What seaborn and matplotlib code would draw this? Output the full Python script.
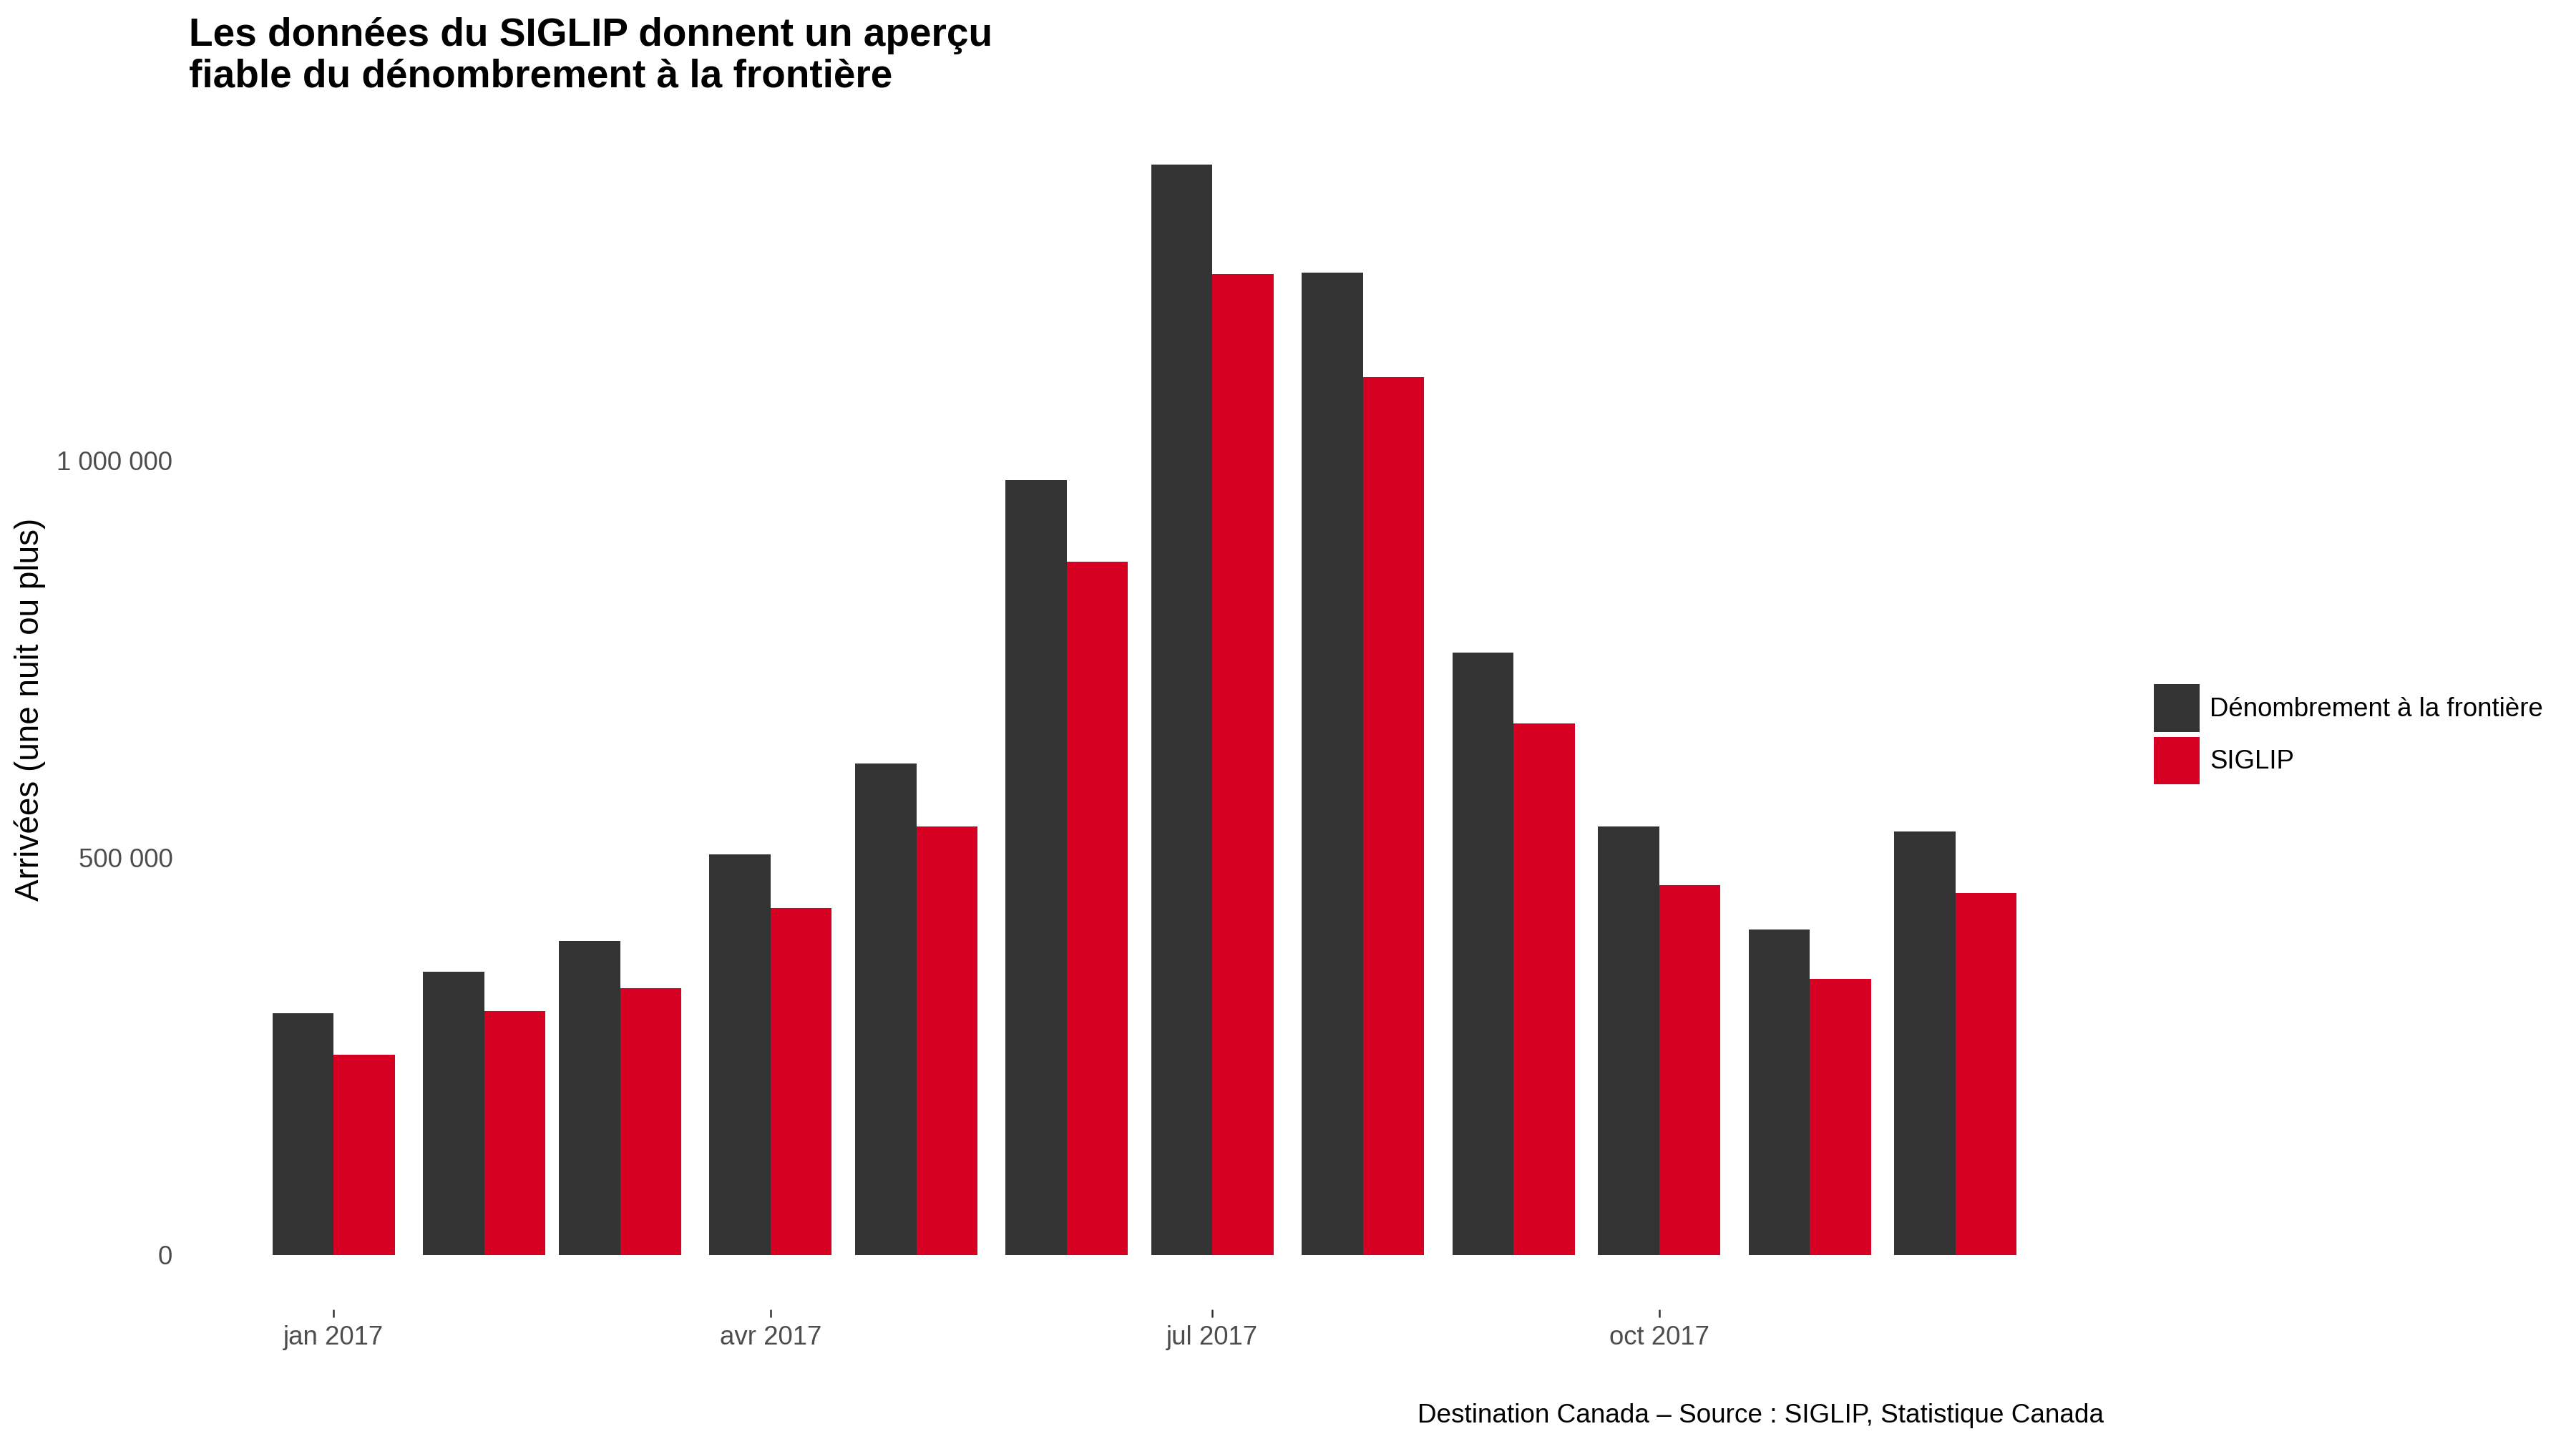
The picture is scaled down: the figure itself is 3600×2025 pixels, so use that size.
import numpy as np
import pandas as pd
import matplotlib
matplotlib.use("Agg")
import matplotlib.pyplot as plt
import matplotlib.dates as mdates
from matplotlib.patches import Patch
from matplotlib.ticker import FuncFormatter
import seaborn as sns

# ---- data ----
months = ["2017-01-01", "2017-02-01", "2017-03-01", "2017-04-01", "2017-05-01", "2017-06-01",
          "2017-07-01", "2017-08-01", "2017-09-01", "2017-10-01", "2017-11-01", "2017-12-01"]
frontiere = [304000, 356000, 395000, 504000, 618000, 975000,
             1372000, 1236000, 758000, 539000, 409000, 533000]
siglip = [252000, 307000, 336000, 436000, 539000, 872000,
          1234000, 1105000, 669000, 465000, 347000, 455000]
series_names = ["Dénombrement à la frontière", "SIGLIP"]
series_colors = ["#333333", "#D60023"]
x_tick_dates = ["2017-01-01", "2017-04-01", "2017-07-01", "2017-10-01"]
x_tick_labels = ["jan 2017", "avr 2017", "jul 2017", "oct 2017"]
y_ticks = [0, 500000, 1000000]

title = "Les données du SIGLIP donnent un aperçu\nfiable du dénombrement à la frontière"
y_title = "Arrivées (une nuit ou plus)"
caption = "Destination Canada – Source : SIGLIP, Statistique Canada"

# ---- style ----
sns.set_theme(style="white")
plt.rcParams['font.family'] = ['Liberation Sans', 'DejaVu Sans']

dnum = mdates.date2num(pd.to_datetime(months))
df = pd.DataFrame({
    "date": np.concatenate([dnum, dnum]),
    "value": frontiere + siglip,
    "serie": [series_names[0]] * len(months) + [series_names[1]] * len(months),
})

fig = plt.figure(figsize=(12, 6.75), dpi=300)
left, right, bottom, top = 0.0719, 0.8167, 0.0964, 0.924
ax = fig.add_axes([left, bottom, right - left, top - bottom])

bar_w = 0.9
sns.barplot(data=df, x="date", y="value", hue="serie", hue_order=series_names,
            palette=series_colors, native_scale=True, width=bar_w, saturation=1,
            errorbar=None, legend=False, linewidth=0, ax=ax)

# limits with ggplot-like 5% expansion
step = np.min(np.diff(dnum))
x0 = dnum.min() - bar_w * step / 2
x1 = dnum.max() + bar_w * step / 2
ax.set_xlim(x0 - 0.05 * (x1 - x0), x1 + 0.05 * (x1 - x0))
ymax = max(max(frontiere), max(siglip))
ax.set_ylim(-0.05 * ymax, 1.05 * ymax)

ax.set_xticks(mdates.date2num(pd.to_datetime(x_tick_dates)))
ax.set_xticklabels(x_tick_labels)
ax.set_yticks(y_ticks)
ax.yaxis.set_major_formatter(FuncFormatter(lambda v, p: f"{int(v):,}".replace(",", " ")))

for s in ax.spines.values():
    s.set_visible(False)
ax.grid(False)
ax.set_xlabel("")
ax.set_ylabel("")
ax.tick_params(axis="x", bottom=True, direction="out", length=2.75, width=0.6,
               color="#333333", labelcolor="#4D4D4D", labelsize=8.8, pad=2.5)
ax.tick_params(axis="y", left=False, length=0, labelcolor="#4D4D4D", labelsize=8.8, pad=4.2)

fig.text(left + 0.0014, 0.988, title, ha="left", va="top", fontsize=13.2,
         fontweight="bold", color="black", linespacing=1.12)
fig.text(0.0115, (top + bottom) / 2, y_title, rotation=90, ha="center", va="center",
         fontsize=11, color="black")
fig.text(right, 0.023, caption, ha="right", va="center", fontsize=8.85, color="black")

handles = [Patch(facecolor=c, edgecolor="none") for c in series_colors]
fig.legend(handles, series_names, loc="center left", bbox_to_anchor=(0.836, 0.4932),
           frameon=False, fontsize=8.8, handlelength=1.75, handleheight=2.42,
           handletextpad=0.4, labelspacing=0.18, borderpad=0, borderaxespad=0,
           labelcolor="black")

fig.savefig("out.png", dpi=300, facecolor="white")
